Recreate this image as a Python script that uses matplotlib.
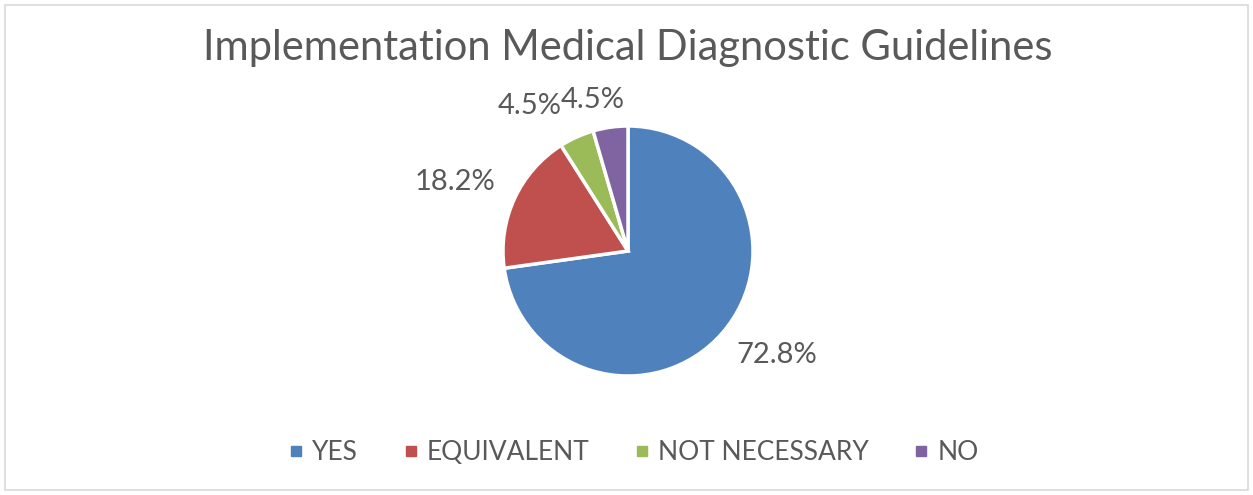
import numpy as np
import matplotlib.pyplot as plt
from matplotlib.patches import Rectangle
from matplotlib.lines import Line2D

categories = ["YES", "EQUIVALENT", "NOT NECESSARY", "NO"]
values     = [72.8, 18.2, 4.5, 4.5]
labels     = ["72.8%", "18.2%", "4.5%", "4.5%"]
colors     = ["#4F81BD", "#C0504D", "#9BBB59", "#8064A2"]

# label placement (radius multiple, angle nudge in degrees)
lab_dist  = [1.45, 1.49, 1.40, 1.24]
lab_nudge = [6, 3, 10, 5]

TXT = "#595959"
FONT = ["Lato", "DejaVu Sans"]

W, H = 1253, 495
fig = plt.figure(figsize=(W / 100, H / 100), dpi=100)

# light frame
fig.patches.append(Rectangle((5 / W, 5 / H), (W - 10) / W, (H - 10) / H,
                             transform=fig.transFigure, fill=False,
                             edgecolor="#D9D9D9", linewidth=1.2))

fig.text(628 / W, 1 - 48 / H, "Implementation Medical Diagnostic Guidelines",
         ha="center", va="center", fontsize=30, color=TXT, family=FONT)

cx, cy, r = 628, 251, 125
ax = fig.add_axes([(cx - r) / W, (H - cy - r) / H, 2 * r / W, 2 * r / H])
wedges, _ = ax.pie(values, colors=colors, startangle=90, counterclock=False,
                   radius=1.0, wedgeprops=dict(edgecolor="white", linewidth=2.5))
ax.set_xlim(-1, 1)
ax.set_ylim(-1, 1)
ax.set_aspect("equal")
ax.axis("off")

for w, lab, d, nud in zip(wedges, labels, lab_dist, lab_nudge):
    ang = np.deg2rad((w.theta1 + w.theta2) / 2 + nud)
    ax.text(d * np.cos(ang), d * np.sin(ang), lab, ha="center", va="center",
            fontsize=21, color=TXT, family=FONT, clip_on=False)

handles = [Line2D([], [], marker="s", linestyle="none", markersize=7,
                  markerfacecolor=c, markeredgecolor=c) for c in colors]
fig.legend(handles, categories, loc="center", bbox_to_anchor=(632 / W, 1 - 453 / H),
           ncol=4, frameon=False, handletextpad=0.2, columnspacing=1.6,
           handlelength=0.8, prop=dict(family=FONT, size=19), labelcolor=TXT)

fig.savefig("out.png", dpi=100)
